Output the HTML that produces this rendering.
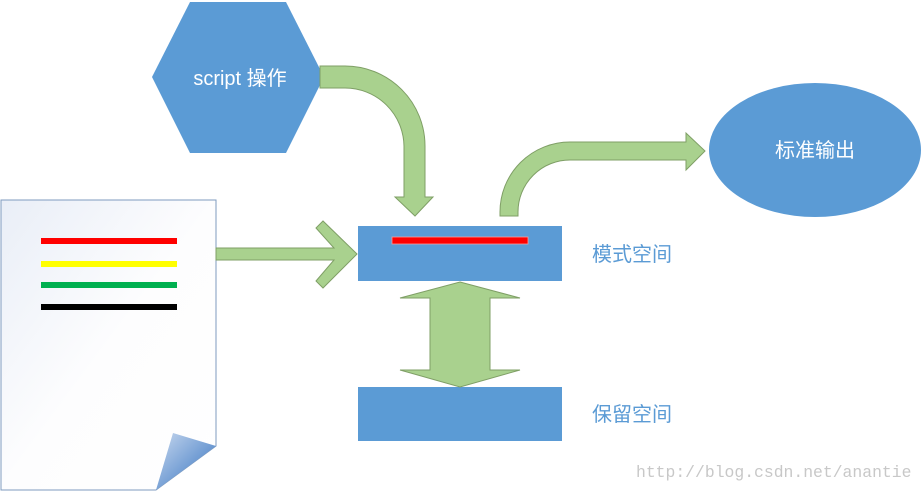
<!DOCTYPE html>
<html><head><meta charset="utf-8"><style>
html,body{margin:0;padding:0;background:#fff;width:923px;height:493px;overflow:hidden}
</style></head><body>
<svg width="923" height="493" viewBox="0 0 923 493" xmlns="http://www.w3.org/2000/svg">
<defs>
<linearGradient id="doc" x1="0" y1="0" x2="1" y2="1">
<stop offset="0" stop-color="#e9eef7"/><stop offset="0.5" stop-color="#fdfdfe"/><stop offset="1" stop-color="#ffffff"/>
</linearGradient>
<linearGradient id="fold" x1="0" y1="0" x2="1" y2="1">
<stop offset="0" stop-color="#c9d9ef"/><stop offset="1" stop-color="#2f6fbf"/>
</linearGradient>
</defs>
<path d="M1,200 L216,200 L216,446 L156,490 L1,490 Z" fill="url(#doc)" stroke="#7f9bbf" stroke-width="1"/>
<path d="M216,446 L173,433 L156,490 Z" fill="url(#fold)"/>
<rect x="41" y="238" width="136" height="6" fill="#ff0000"/>
<rect x="41" y="261" width="136" height="6" fill="#ffff00"/>
<rect x="41" y="282" width="136" height="6" fill="#00b050"/>
<rect x="41" y="304" width="136" height="6" fill="#000"/>
<path d="M216,248 L334,248 L316,228 L323,221 L357,254 L323,288 L316,281 L334,260 L216,260 Z" fill="#a9d18e" stroke="#7f9f66" stroke-width="1"/>
<polygon points="152,77 190,2 286,2 324,77 286,153 190,153" fill="#5b9bd5"/>
<text x="240" y="85" fill="#fff" font-size="20" text-anchor="middle" font-family="Liberation Sans, Noto Sans CJK SC, sans-serif">script 操作</text>
<path d="M320,66 L345,66 A80,80 0 0 1 425,146 L425,197 L433,197 L415,216 L395,197 L404,197 L404,146 A59,59 0 0 0 345,88 L320,88 Z" fill="#a9d18e" stroke="#7f9f66" stroke-width="1"/>
<path d="M500,216 L500,212 A70,70 0 0 1 570,142 L686,142 L686,133 L705,151 L686,170 L686,160 L570,160 A52,52 0 0 0 518,212 L518,216 Z" fill="#a9d18e" stroke="#7f9f66" stroke-width="1"/>
<ellipse cx="815" cy="150" rx="106" ry="67" fill="#5b9bd5"/>
<text x="815" y="157" fill="#fff" font-size="20" text-anchor="middle" font-family="Liberation Sans, Noto Sans CJK SC, sans-serif">标准输出</text>
<rect x="358" y="226" width="204" height="55" fill="#5b9bd5"/>
<rect x="392" y="237" width="136" height="7" fill="#ff0000" stroke="#f4a0a0" stroke-width="0.8"/>
<rect x="358" y="387" width="204" height="54" fill="#5b9bd5"/>
<path d="M460,282 L520,298 L490,298 L490,370 L520,370 L460,387 L400,370 L430,370 L430,298 L400,298 Z" fill="#a9d18e" stroke="#7f9f66" stroke-width="1"/>
<text x="592" y="261" fill="#5b9bd5" font-size="20" font-family="Liberation Sans, Noto Sans CJK SC, sans-serif">模式空间</text>
<text x="592" y="421" fill="#5b9bd5" font-size="20" font-family="Liberation Sans, Noto Sans CJK SC, sans-serif">保留空间</text>
<text x="636" y="477" fill="#c8c8c8" font-size="16.4" font-family="Liberation Mono, monospace">http://blog.csdn.net/anantie</text>
</svg>
</body></html>
